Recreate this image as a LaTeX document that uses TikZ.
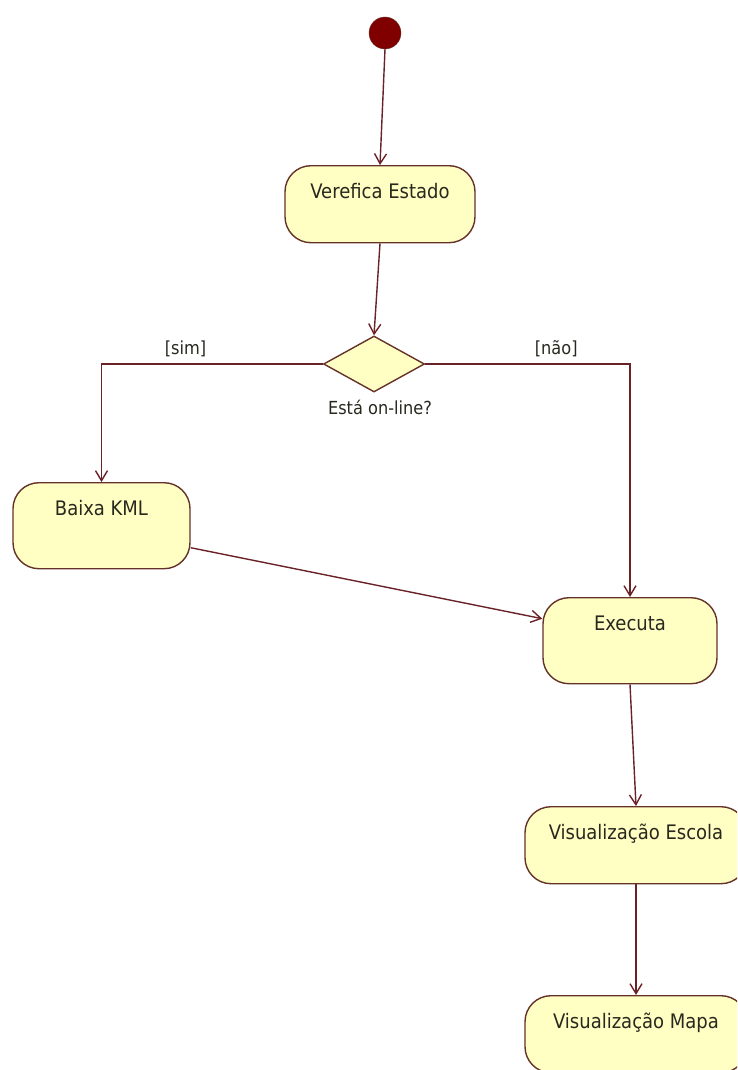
\documentclass[tikz,border=0pt]{standalone}
\usepackage{fontspec}
\setmainfont{DejaVu Sans Condensed}
\usetikzlibrary{arrows.meta,shapes.geometric}
\definecolor{fillY}{RGB}{255,255,196}
\definecolor{edgeC}{RGB}{100,50,40}
\definecolor{lineC}{RGB}{105,35,40}
\definecolor{initC}{RGB}{128,0,0}
\definecolor{txtC}{RGB}{40,40,30}
\tikzset{
  act/.style={draw=edgeC, line width=1.4pt, fill=fillY, rounded corners=26pt,
    inner xsep=0pt, inner ysep=0pt, text height=33pt, text depth=#1,
    font=\fontsize{20}{24}\selectfont, text=txtC},
  act/.default=44pt,
  flow/.style={draw=lineC, line width=1.4pt, -{Straight Barb[length=10pt,width=12pt]}},
  lbl/.style={font=\fontsize{18}{21}\selectfont, text=txtC, inner sep=0pt}
}
\begin{document}
\begin{tikzpicture}[x=1pt,y=-1pt]
\useasboundingbox (0,0) rectangle (737,1070);
\clip (0,0) rectangle (737,1070);
\node[circle, fill=initC, draw=edgeC, minimum size=32pt, inner sep=0pt] (init) at (385,33) {};
\node[act, minimum width=190pt] (ver) at (380,165) [anchor=north] {Verefica Estado};
\node[diamond, draw=edgeC, line width=1.4pt, fill=fillY, minimum width=101pt, minimum height=56pt, inner sep=0pt] (q) at (374,364) {};
\node[lbl] (qlbl) at (380,407) {Está on-line?};
\node[act=53pt, minimum width=177pt] (baixa) at (101.5,482) [anchor=north] {Baixa KML};
\node[act=53pt, minimum width=174pt] (exec) at (630,597) [anchor=north] {Executa};
\node[act, minimum width=222pt] (esc) at (636,806) [anchor=north] {Visualização Escola};
\node[act, minimum width=222pt] (mapa) at (636,995) [anchor=north] {Visualização Mapa};
\draw[flow] (init.south) -- (ver.north);
\draw[flow] (ver.south) -- (q.north);
\draw[flow] (q.west) -| node[lbl, pos=0.31, above=6pt] (sim) {[sim]} (baixa.north);
\draw[flow] (q.east) -| node[lbl, pos=0.32, above=6pt] (nao) {[não]} (exec.north);
\draw[flow] ([yshift=-22pt]baixa.east) -- ([yshift=22pt]exec.west);
\draw[flow] (exec.south) -- (esc.north);
\draw[flow] (esc.south) -- (mapa.north);
\end{tikzpicture}
\end{document}
